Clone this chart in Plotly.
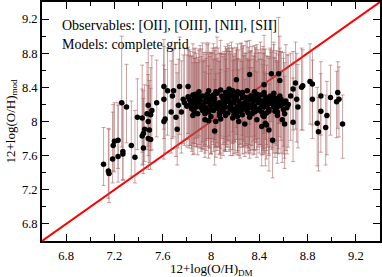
import plotly.graph_objects as go

# ---- data ----
x_sparse = [7.11, 7.15, 7.155, 7.19, 7.20, 7.185, 7.23, 7.23, 7.26, 7.27, 7.27, 7.30, 7.39, 7.34, 7.37,
            7.43, 7.44, 7.43, 7.44, 7.45, 7.47, 7.48, 7.48, 7.48, 7.49, 7.50, 7.50, 7.51, 7.55,
            7.61, 7.61, 7.62, 7.61, 7.64, 7.67, 7.68, 7.69, 7.71, 7.72, 7.73, 7.74, 7.755, 7.77, 7.78,
            7.81, 7.82, 7.85, 7.86, 7.89, 7.90, 7.93, 7.96, 7.98, 8.03, 8.04, 8.07, 8.15, 8.21, 8.32,
            8.22, 8.23, 8.28, 8.36]
y_sparse = [7.50, 7.42, 7.39, 7.72, 7.77, 7.56, 7.78, 7.59, 8.22, 7.65, 7.62, 8.17, 8.05, 7.72, 7.58,
            8.04, 7.86, 7.83, 7.69, 7.91, 8.09, 8.19, 8.00, 7.80, 7.90, 8.08, 7.79, 8.13, 8.22,
            8.41, 8.26, 8.03, 8.00, 8.36, 8.11, 8.30, 8.36, 8.05, 7.91, 8.19, 8.41, 8.11, 8.26, 8.22,
            8.41, 8.19, 8.07, 8.26, 8.09, 8.20, 8.13, 8.30, 8.01, 7.89, 8.00, 8.07, 8.38, 8.49, 8.55,
            8.06, 8.00, 7.97, 8.11]
eu_sparse = [0.43, 0.50, 0.52, 0.48, 0.45, 0.55, 0.44, 0.60, 0.78, 0.56, 0.60, 0.50, 0.45, 0.52, 0.55,
             0.62, 0.50, 0.55, 0.58, 0.52, 0.60, 0.66, 0.55, 0.62, 0.58, 0.55, 0.60, 0.64, 0.50,
             0.55, 0.62, 0.58, 0.66, 0.50, 0.60, 0.56, 0.48, 0.62, 0.66, 0.54, 0.58, 0.60, 0.52, 0.64,
             0.46, 0.58, 0.62, 0.55, 0.60, 0.52, 0.57, 0.62, 0.55, 0.60, 0.56, 0.50, 0.44, 0.38, 0.40,
             0.55, 0.60, 0.52, 0.48]
ed_sparse = [0.25, 0.32, 0.34, 0.30, 0.36, 0.28, 0.33, 0.30, 0.52, 0.34, 0.30, 0.42, 0.38, 0.36, 0.30,
             0.40, 0.36, 0.34, 0.30, 0.38, 0.42, 0.48, 0.40, 0.36, 0.38, 0.42, 0.35, 0.46, 0.40,
             0.50, 0.46, 0.40, 0.44, 0.52, 0.48, 0.50, 0.54, 0.46, 0.42, 0.50, 0.56, 0.48, 0.52, 0.50,
             0.55, 0.50, 0.46, 0.52, 0.48, 0.50, 0.46, 0.52, 0.44, 0.40, 0.42, 0.46, 0.55, 0.56, 0.58,
             0.42, 0.40, 0.38, 0.44]

x_band = [7.81, 7.85, 7.89, 7.93, 7.97, 8.01, 8.05, 8.09, 8.13, 8.17, 8.21, 8.25, 8.29, 8.33, 8.37, 8.41, 8.45, 8.49,
          7.83, 7.87, 7.91, 7.95, 7.99, 8.03, 8.07, 8.11, 8.15, 8.19, 8.23, 8.27, 8.31, 8.35, 8.39, 8.43, 8.47, 8.51,
          7.80, 7.84, 7.88, 7.92, 7.96, 8.00, 8.04, 8.08, 8.12, 8.16, 8.20, 8.24, 8.28, 8.32, 8.36, 8.40, 8.44, 8.48,
          7.86, 7.94, 7.98, 8.02, 8.06, 8.10, 8.14, 8.18, 8.22, 8.26, 8.30, 8.34, 8.38, 8.42, 8.46,
          7.90, 7.98, 8.04, 8.08, 8.12, 8.18, 8.22, 8.26, 8.30, 8.36, 8.44,
          7.99, 8.03, 8.11, 8.15, 8.19, 8.27, 8.33, 8.39, 8.43, 8.05, 8.13, 8.21, 8.29, 8.35,
          8.52, 8.54, 8.56, 8.58, 8.60, 8.62, 8.64, 8.53, 8.57, 8.61, 8.55, 8.59, 8.63,
          8.00, 8.08, 8.12, 8.18, 8.26, 8.32, 8.38, 8.44, 8.46, 7.95]
y_band = [8.29, 8.31, 8.27, 8.30, 8.32, 8.28, 8.33, 8.30, 8.27, 8.31, 8.29, 8.32, 8.28, 8.30, 8.27, 8.31, 8.29, 8.26,
          8.24, 8.22, 8.25, 8.23, 8.26, 8.24, 8.22, 8.25, 8.23, 8.26, 8.24, 8.21, 8.25, 8.23, 8.22, 8.24, 8.20, 8.23,
          8.18, 8.20, 8.17, 8.19, 8.16, 8.19, 8.18, 8.20, 8.17, 8.18, 8.15, 8.19, 8.17, 8.16, 8.18, 8.15, 8.17, 8.14,
          8.12, 8.14, 8.11, 8.13, 8.15, 8.12, 8.10, 8.13, 8.11, 8.14, 8.12, 8.09, 8.13, 8.11, 8.10,
          8.35, 8.36, 8.35, 8.37, 8.34, 8.36, 8.35, 8.34, 8.36, 8.35, 8.34,
          8.21, 8.27, 8.20, 8.28, 8.22, 8.29, 8.19, 8.28, 8.20, 8.16, 8.24, 8.31, 8.22, 8.15,
          8.28, 8.22, 8.18, 8.26, 8.14, 8.24, 8.20, 8.12, 8.30, 8.09, 8.07, 8.02, 8.16,
          8.06, 8.03, 8.07, 8.04, 8.08, 8.05, 8.02, 8.06, 7.96, 8.02]
eu_band = [0.55, 0.60, 0.48, 0.62, 0.58, 0.52, 0.66, 0.50, 0.58, 0.62, 0.54, 0.60, 0.66, 0.52, 0.58, 0.62, 0.56, 0.60,
           0.58, 0.52, 0.64, 0.56, 0.50, 0.62, 0.58, 0.54, 0.66, 0.52, 0.60, 0.56, 0.62, 0.50, 0.58, 0.64, 0.56, 0.60,
           0.60, 0.56, 0.52, 0.66, 0.58, 0.62, 0.54, 0.60, 0.56, 0.64, 0.58, 0.52, 0.60, 0.56, 0.62, 0.58, 0.54, 0.60,
           0.62, 0.58, 0.54, 0.60, 0.56, 0.64, 0.52, 0.58, 0.62, 0.56, 0.60, 0.54, 0.58, 0.62, 0.56,
           0.50, 0.56, 0.52, 0.58, 0.54, 0.50, 0.56, 0.52, 0.58, 0.54, 0.50,
           0.60, 0.56, 0.62, 0.58, 0.54, 0.60, 0.64, 0.56, 0.60, 0.58, 0.62, 0.54, 0.58, 0.62,
           0.62, 0.58, 0.64, 0.56, 0.60, 0.66, 0.58, 0.62, 0.56, 0.60, 0.64, 0.58, 0.62,
           0.55, 0.58, 0.52, 0.56, 0.54, 0.58, 0.56, 0.52, 0.60, 0.56]
ed_band = [0.50, 0.56, 0.46, 0.54, 0.52, 0.48, 0.58, 0.50, 0.54, 0.56, 0.50, 0.58, 0.54, 0.48, 0.52, 0.58, 0.50, 0.56,
           0.52, 0.48, 0.56, 0.50, 0.46, 0.54, 0.52, 0.50, 0.58, 0.48, 0.54, 0.50, 0.56, 0.46, 0.52, 0.58, 0.50, 0.54,
           0.48, 0.52, 0.46, 0.54, 0.50, 0.56, 0.48, 0.52, 0.50, 0.58, 0.52, 0.46, 0.54, 0.50, 0.56, 0.52, 0.48, 0.54,
           0.50, 0.46, 0.42, 0.48, 0.44, 0.52, 0.40, 0.46, 0.50, 0.44, 0.48, 0.42, 0.46, 0.50, 0.44,
           0.52, 0.56, 0.50, 0.54, 0.52, 0.48, 0.56, 0.50, 0.54, 0.52, 0.48,
           0.52, 0.48, 0.54, 0.50, 0.46, 0.52, 0.56, 0.48, 0.52, 0.50, 0.54, 0.46, 0.50, 0.54,
           0.54, 0.50, 0.56, 0.48, 0.52, 0.58, 0.50, 0.54, 0.48, 0.52, 0.56, 0.50, 0.54,
           0.44, 0.46, 0.42, 0.44, 0.46, 0.48, 0.44, 0.42, 0.40, 0.44]

x_core = [7.82, 7.86, 7.90, 7.94, 7.98, 8.02, 8.06, 8.10, 8.14, 8.18, 8.22, 8.26, 8.30, 8.34, 8.38, 8.42, 8.46, 8.50, 8.54, 8.58,
          7.84, 7.88, 7.92, 7.96, 8.00, 8.04, 8.08, 8.12, 8.16, 8.20, 8.24, 8.28, 8.32, 8.36, 8.40, 8.44, 8.48, 8.52, 8.56, 8.60,
          7.87, 7.95, 8.01, 8.07, 8.13, 8.19, 8.25, 8.31, 8.37, 8.43, 8.49, 8.55]
y_core = [8.26, 8.21, 8.29, 8.19, 8.23, 8.31, 8.20, 8.27, 8.33, 8.22, 8.18, 8.28, 8.20, 8.26, 8.32, 8.19, 8.25, 8.21, 8.27, 8.19,
          8.15, 8.24, 8.16, 8.27, 8.14, 8.21, 8.17, 8.23, 8.15, 8.28, 8.13, 8.22, 8.27, 8.14, 8.25, 8.20, 8.12, 8.17, 8.24, 8.21,
          8.32, 8.09, 8.30, 8.10, 8.31, 8.08, 8.33, 8.10, 8.31, 8.07, 8.30, 8.11]
eu_core = [0.58, 0.64, 0.54, 0.62, 0.56, 0.60, 0.66, 0.52, 0.58, 0.64, 0.56, 0.60, 0.54, 0.62, 0.58, 0.66, 0.52, 0.60, 0.56, 0.62,
           0.62, 0.56, 0.60, 0.54, 0.66, 0.58, 0.62, 0.56, 0.64, 0.52, 0.60, 0.58, 0.54, 0.62, 0.56, 0.60, 0.64, 0.58, 0.54, 0.60,
           0.54, 0.62, 0.56, 0.60, 0.52, 0.64, 0.58, 0.62, 0.56, 0.60, 0.54, 0.58]
ed_core = [0.54, 0.50, 0.56, 0.48, 0.52, 0.58, 0.50, 0.54, 0.56, 0.48, 0.52, 0.58, 0.50, 0.54, 0.56, 0.48, 0.52, 0.54, 0.50, 0.56,
           0.50, 0.54, 0.48, 0.56, 0.52, 0.50, 0.54, 0.58, 0.48, 0.52, 0.56, 0.50, 0.54, 0.48, 0.52, 0.58, 0.50, 0.54, 0.56, 0.50,
           0.52, 0.46, 0.54, 0.48, 0.52, 0.46, 0.54, 0.48, 0.52, 0.46, 0.50, 0.48]

x_right = [8.50, 8.56, 8.57, 8.44, 8.52, 8.54, 8.51, 8.48, 8.42, 8.45, 8.61, 8.66, 8.68, 8.68, 8.70, 8.71,
           8.72, 8.75, 8.76, 8.82, 8.84, 8.84, 8.88, 8.89, 8.91, 8.91, 8.95, 8.96, 8.99, 9.04, 9.05, 9.06, 9.09]
y_right = [8.56, 8.56, 8.48, 8.43, 8.33, 8.15, 7.78, 7.90, 7.94, 7.98, 7.97, 8.30, 8.38, 7.99, 8.45, 8.26,
           8.17, 8.40, 8.42, 8.47, 8.44, 8.26, 7.98, 7.88, 8.12, 8.30, 7.93, 8.07, 8.28, 8.23, 8.34, 8.26, 7.97]
eu_right = [0.62, 0.66, 0.52, 0.58, 0.60, 0.56, 0.50, 0.54, 0.52, 0.58, 0.56, 0.50, 0.44, 0.52, 0.48, 0.54,
            0.50, 0.46, 0.42, 0.44, 0.40, 0.46, 0.42, 0.40, 0.44, 0.40, 0.38, 0.40, 0.38, 0.36, 0.36, 0.38, 0.34]
ed_right = [0.56, 0.58, 0.50, 0.54, 0.58, 0.52, 0.44, 0.48, 0.46, 0.50, 0.52, 0.52, 0.48, 0.46, 0.54, 0.50,
            0.48, 0.50, 0.52, 0.50, 0.48, 0.46, 0.50, 0.46, 0.48, 0.46, 0.44, 0.46, 0.44, 0.42, 0.42, 0.44, 0.40]

x_all = x_sparse + x_band + x_core + x_right
y_all = y_sparse + y_band + y_core + y_right
eu_all = eu_sparse + eu_band + eu_core + eu_right
ed_all = ed_sparse + ed_band + ed_core + ed_right

line_x = [6.6, 9.4]
line_y = [6.6, 9.4]
tick_vals = [6.8, 7.2, 7.6, 8.0, 8.4, 8.8, 9.2]
tick_text = ["6.8", "7.2", "7.6", "8", "8.4", "8.8", "9.2"]
minor_vals = [6.6, 7.0, 7.4, 7.8, 8.2, 8.6, 9.0]

FONT = "Liberation Serif, Times New Roman, serif"

fig = go.Figure()
fig.add_trace(go.Scatter(x=line_x, y=line_y, mode="lines",
                         line=dict(color="#ff0000", width=2), showlegend=False, hoverinfo="skip"))
fig.add_trace(go.Scatter(
    x=x_all, y=y_all, mode="markers",
    marker=dict(color="black", size=5.5),
    error_y=dict(type="data", symmetric=False, array=eu_all, arrayminus=ed_all,
                 color="rgba(160,90,90,0.55)", thickness=1, width=2),
    showlegend=False))

axis_common = dict(
    range=[6.6, 9.4], tickvals=tick_vals, ticktext=tick_text,
    ticks="inside", ticklen=7, tickwidth=1, tickcolor="black",
    minor=dict(tickvals=minor_vals, ticks="inside", ticklen=4, tickcolor="black"),
    showline=True, linecolor="black", linewidth=2, mirror="allticks",
    showgrid=False, zeroline=False, automargin=False,
    tickfont=dict(family=FONT, size=12.5, color="black"),
)
fig.update_xaxes(**axis_common, ticklabelstandoff=2)
fig.update_yaxes(**axis_common)

fig.add_annotation(text="12+log(O/H)<sub>DM</sub>", xref="paper", yref="paper",
                   x=0.5, y=0, yshift=-28, xanchor="center", yanchor="middle", showarrow=False,
                   font=dict(family=FONT, size=13, color="black"))
fig.add_annotation(text="12+log(O/H)<sub>mod</sub>", xref="paper", yref="paper", textangle=-90,
                   x=0, xshift=-31, y=0.5, xanchor="center", yanchor="middle", showarrow=False,
                   font=dict(family=FONT, size=13, color="black"))

fig.add_annotation(text="Observables: [OII], [OIII], [NII], [SII]", xref="paper", yref="paper",
                   x=0.053, y=0.902, xanchor="left", yanchor="middle", showarrow=False,
                   font=dict(family=FONT, size=14, color="black"))
fig.add_annotation(text="Models: complete grid", xref="paper", yref="paper",
                   x=0.053, y=0.822, xanchor="left", yanchor="middle", showarrow=False,
                   font=dict(family=FONT, size=14, color="black"))

fig.update_layout(width=382, height=277, margin=dict(l=42, r=2, t=2, b=36),
                  plot_bgcolor="white", paper_bgcolor="white")
fig.write_html("out.html", config={"displayModeBar": False},
               post_script="document.body.style.margin='0';document.body.style.overflow='hidden';")
